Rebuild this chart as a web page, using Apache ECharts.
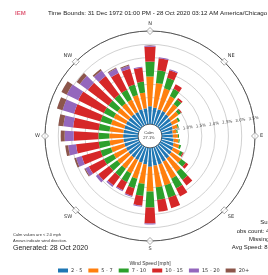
<!DOCTYPE html>
<html>
<head>
<meta charset="utf-8">
<script src="https://cdn.jsdelivr.net/npm/echarts@6/dist/echarts.min.js"></script>
<style>
  html, body { margin: 0; padding: 0; background: #fff; }
  #chart { width: 268px; height: 275px; }
</style>
</head>
<body>
<div id="chart"></div>
<script>
// wind directions, every 10 degrees
const directions = ["0","10","20","30","40","50","60","70","80","90","100","110","120","130","140","150","160","170",
  "180","190","200","210","220","230","240","250","260","270","280","290","300","310","320","330","340","350"];
const speedBins = ["2 - 5", "5 - 7", "7 - 10", "10 - 15", "15 - 20", "20+"];
const binColors = ["#1f77b4", "#ff7f0e", "#2ca02c", "#d62728", "#9467bd", "#8c564b"];

// frequency (%) per direction for each speed bin
const speed2to5 = [0.67,0.63,0.60,0.60,0.56,0.52,0.48,0.45,0.41,0.41,0.45,0.48,0.52,0.56,0.60,0.63,0.67,0.67,
  0.71,0.63,0.60,0.56,0.56,0.56,0.56,0.56,0.56,0.56,0.56,0.56,0.56,0.56,0.56,0.56,0.60,0.60];
const speed5to7 = [1.12,0.93,0.82,0.63,0.48,0.37,0.26,0.19,0.15,0.19,0.19,0.22,0.30,0.45,0.63,0.71,0.82,0.82,
  0.93,0.74,0.63,0.56,0.52,0.52,0.52,0.52,0.52,0.52,0.52,0.52,0.52,0.52,0.52,0.52,0.56,0.60];
const speed7to10 = [0.56,0.48,0.41,0.30,0.22,0.11,0.07,0.04,0.04,0.04,0.04,0.07,0.11,0.22,0.37,0.41,0.48,0.48,
  0.60,0.45,0.37,0.37,0.37,0.37,0.41,0.41,0.41,0.41,0.41,0.41,0.41,0.41,0.41,0.41,0.41,0.41];
const speed10to15 = [0.56,0.45,0.30,0.19,0.07,0.04,0,0,0,0,0,0,0.04,0.11,0.26,0.34,0.41,0.45,
  0.60,0.37,0.30,0.34,0.41,0.52,0.63,0.74,0.86,0.93,0.97,1.04,1.08,0.97,0.86,0.71,0.63,0.52];
const speed15to20 = [0.04,0.04,0.04,0,0,0,0,0,0,0,0,0,0,0,0,0,0,0,
  0.04,0.04,0.04,0.04,0.07,0.11,0.15,0.22,0.30,0.34,0.37,0.45,0.48,0.37,0.26,0.19,0.11,0.04];
const speed20up = [0,0,0,0,0,0,0,0,0,0,0,0,0,0,0,0,0,0,
  0,0,0,0,0,0,0.04,0.07,0.11,0.15,0.19,0.22,0.22,0.15,0.07,0.04,0.04,0];

const compassNames = ["N", "NE", "E", "SE", "S", "SW", "W", "NW"];
const compassAngles = [0, 45, 90, 135, 180, 225, 270, 315];
const calmPct = "27.1%";

const binData = [speed2to5, speed5to7, speed7to10, speed10to15, speed15to20, speed20up];
const center = [150, 136];
const radius = [12, 105];

const chart = echarts.init(document.getElementById("chart"), null, { renderer: "canvas" });

const series = binData.map(function (vals, i) {
  return {
    name: speedBins[i],
    type: "bar",
    coordinateSystem: "polar",
    polarIndex: 0,
    stack: "wind",
    barCategoryGap: "28%",
    itemStyle: { color: binColors[i] },
    data: vals,
  };
});

series.push({
  type: "scatter",
  coordinateSystem: "polar",
  polarIndex: 1,
  symbol: "diamond",
  symbolSize: 7,
  silent: true,
  itemStyle: { color: "#fff", borderColor: "#777", borderWidth: 0.8 },
  data: compassAngles.map(function (a) { return [3.5, a]; }),
});

const option = {
  animation: false,
  textStyle: { fontFamily: "DejaVu Sans" },
  polar: [
    { center: center, radius: radius },
    { center: center, radius: radius },
    { center: center, radius: radius },
  ],
  angleAxis: [
    {
      polarIndex: 0,
      type: "category",
      data: directions,
      startAngle: 95,
      show: false,
    },
    {
      polarIndex: 1,
      type: "value",
      min: 0,
      max: 360,
      interval: 45,
      startAngle: 90,
      axisLine: { lineStyle: { color: "#555", width: 1 } },
      axisTick: { show: false },
      splitLine: { show: false },
      axisLabel: {
        fontSize: 5,
        color: "#333",
        margin: 5,
        formatter: function (v) {
          const k = compassAngles.indexOf(v);
          return k >= 0 ? compassNames[k] : "";
        },
      },
    },
    {
      polarIndex: 2,
      type: "value",
      min: 0,
      max: 360,
      startAngle: 8,
      show: false,
    },
  ],
  radiusAxis: [
    {
      polarIndex: 0,
      min: 0,
      max: 3.5,
      interval: 0.5,
      axisLine: { show: false },
      axisTick: { show: false },
      axisLabel: { show: false },
      splitLine: { lineStyle: { color: "#bdbdbd", width: 0.7 } },
    },
    {
      polarIndex: 1,
      min: 0,
      max: 3.5,
      show: false,
    },
    {
      polarIndex: 2,
      min: 0,
      max: 3.5,
      interval: 0.5,
      axisLine: { show: false },
      axisTick: { show: false },
      splitLine: { show: false },
      axisLabel: {
        fontSize: 4,
        color: "#444",
        margin: 1,
        rotate: 8,
        formatter: function (v) { return v > 0 ? v.toFixed(1) + "%" : ""; },
      },
    },
  ],
  legend: {
    data: speedBins,
    top: 268,
    left: 58,
    itemWidth: 10,
    itemHeight: 4,
    itemGap: 6,
    padding: 0,
    icon: "rect",
    textStyle: { fontSize: 5, color: "#333", padding: [0, 0, 0, -2] },
  },
  graphic: [
    { type: "text", left: 15, top: 10, style: { text: "IEM", fontSize: 6, fontWeight: "bold", fill: "#e0607a" } },
    { type: "text", left: 48, top: 10, style: { text: "Time Bounds: 31 Dec 1972 01:00 PM - 28 Oct 2020 03:12 AM America/Chicago", fontSize: 6.2, fill: "#222" } },
    { type: "text", x: center[0] - 1, y: center[1] - 1, style: { text: "Calm\n" + calmPct, fontSize: 4, fill: "#333", align: "center", verticalAlign: "middle", lineHeight: 5 } },
    { type: "text", left: 13, top: 233, style: { text: "Calm values are < 2.0 mph", fontSize: 4, fill: "#333" } },
    { type: "text", left: 13, top: 239, style: { text: "Arrows indicate wind direction.", fontSize: 4, fill: "#333" } },
    { type: "text", left: 13, top: 245, style: { text: "Generated: 28 Oct 2020", fontSize: 7, fill: "#222" } },
    { type: "text", x: 286, y: 219, style: { text: "Summary", fontSize: 6, fill: "#222", align: "right" } },
    { type: "text", x: 286, y: 228, style: { text: "obs count: 463920", fontSize: 6, fill: "#222", align: "right" } },
    { type: "text", x: 286, y: 236, style: { text: "Missing: 2541", fontSize: 6, fill: "#222", align: "right" } },
    { type: "text", x: 286, y: 244, style: { text: "Avg Speed: 8.1 mph", fontSize: 6, fill: "#222", align: "right" } },
    { type: "text", x: 150, y: 261, style: { text: "Wind Speed [mph]", fontSize: 5, fill: "#333", align: "center" } },
  ],
  series: series,
};

chart.setOption(option);
</script>
</body>
</html>
